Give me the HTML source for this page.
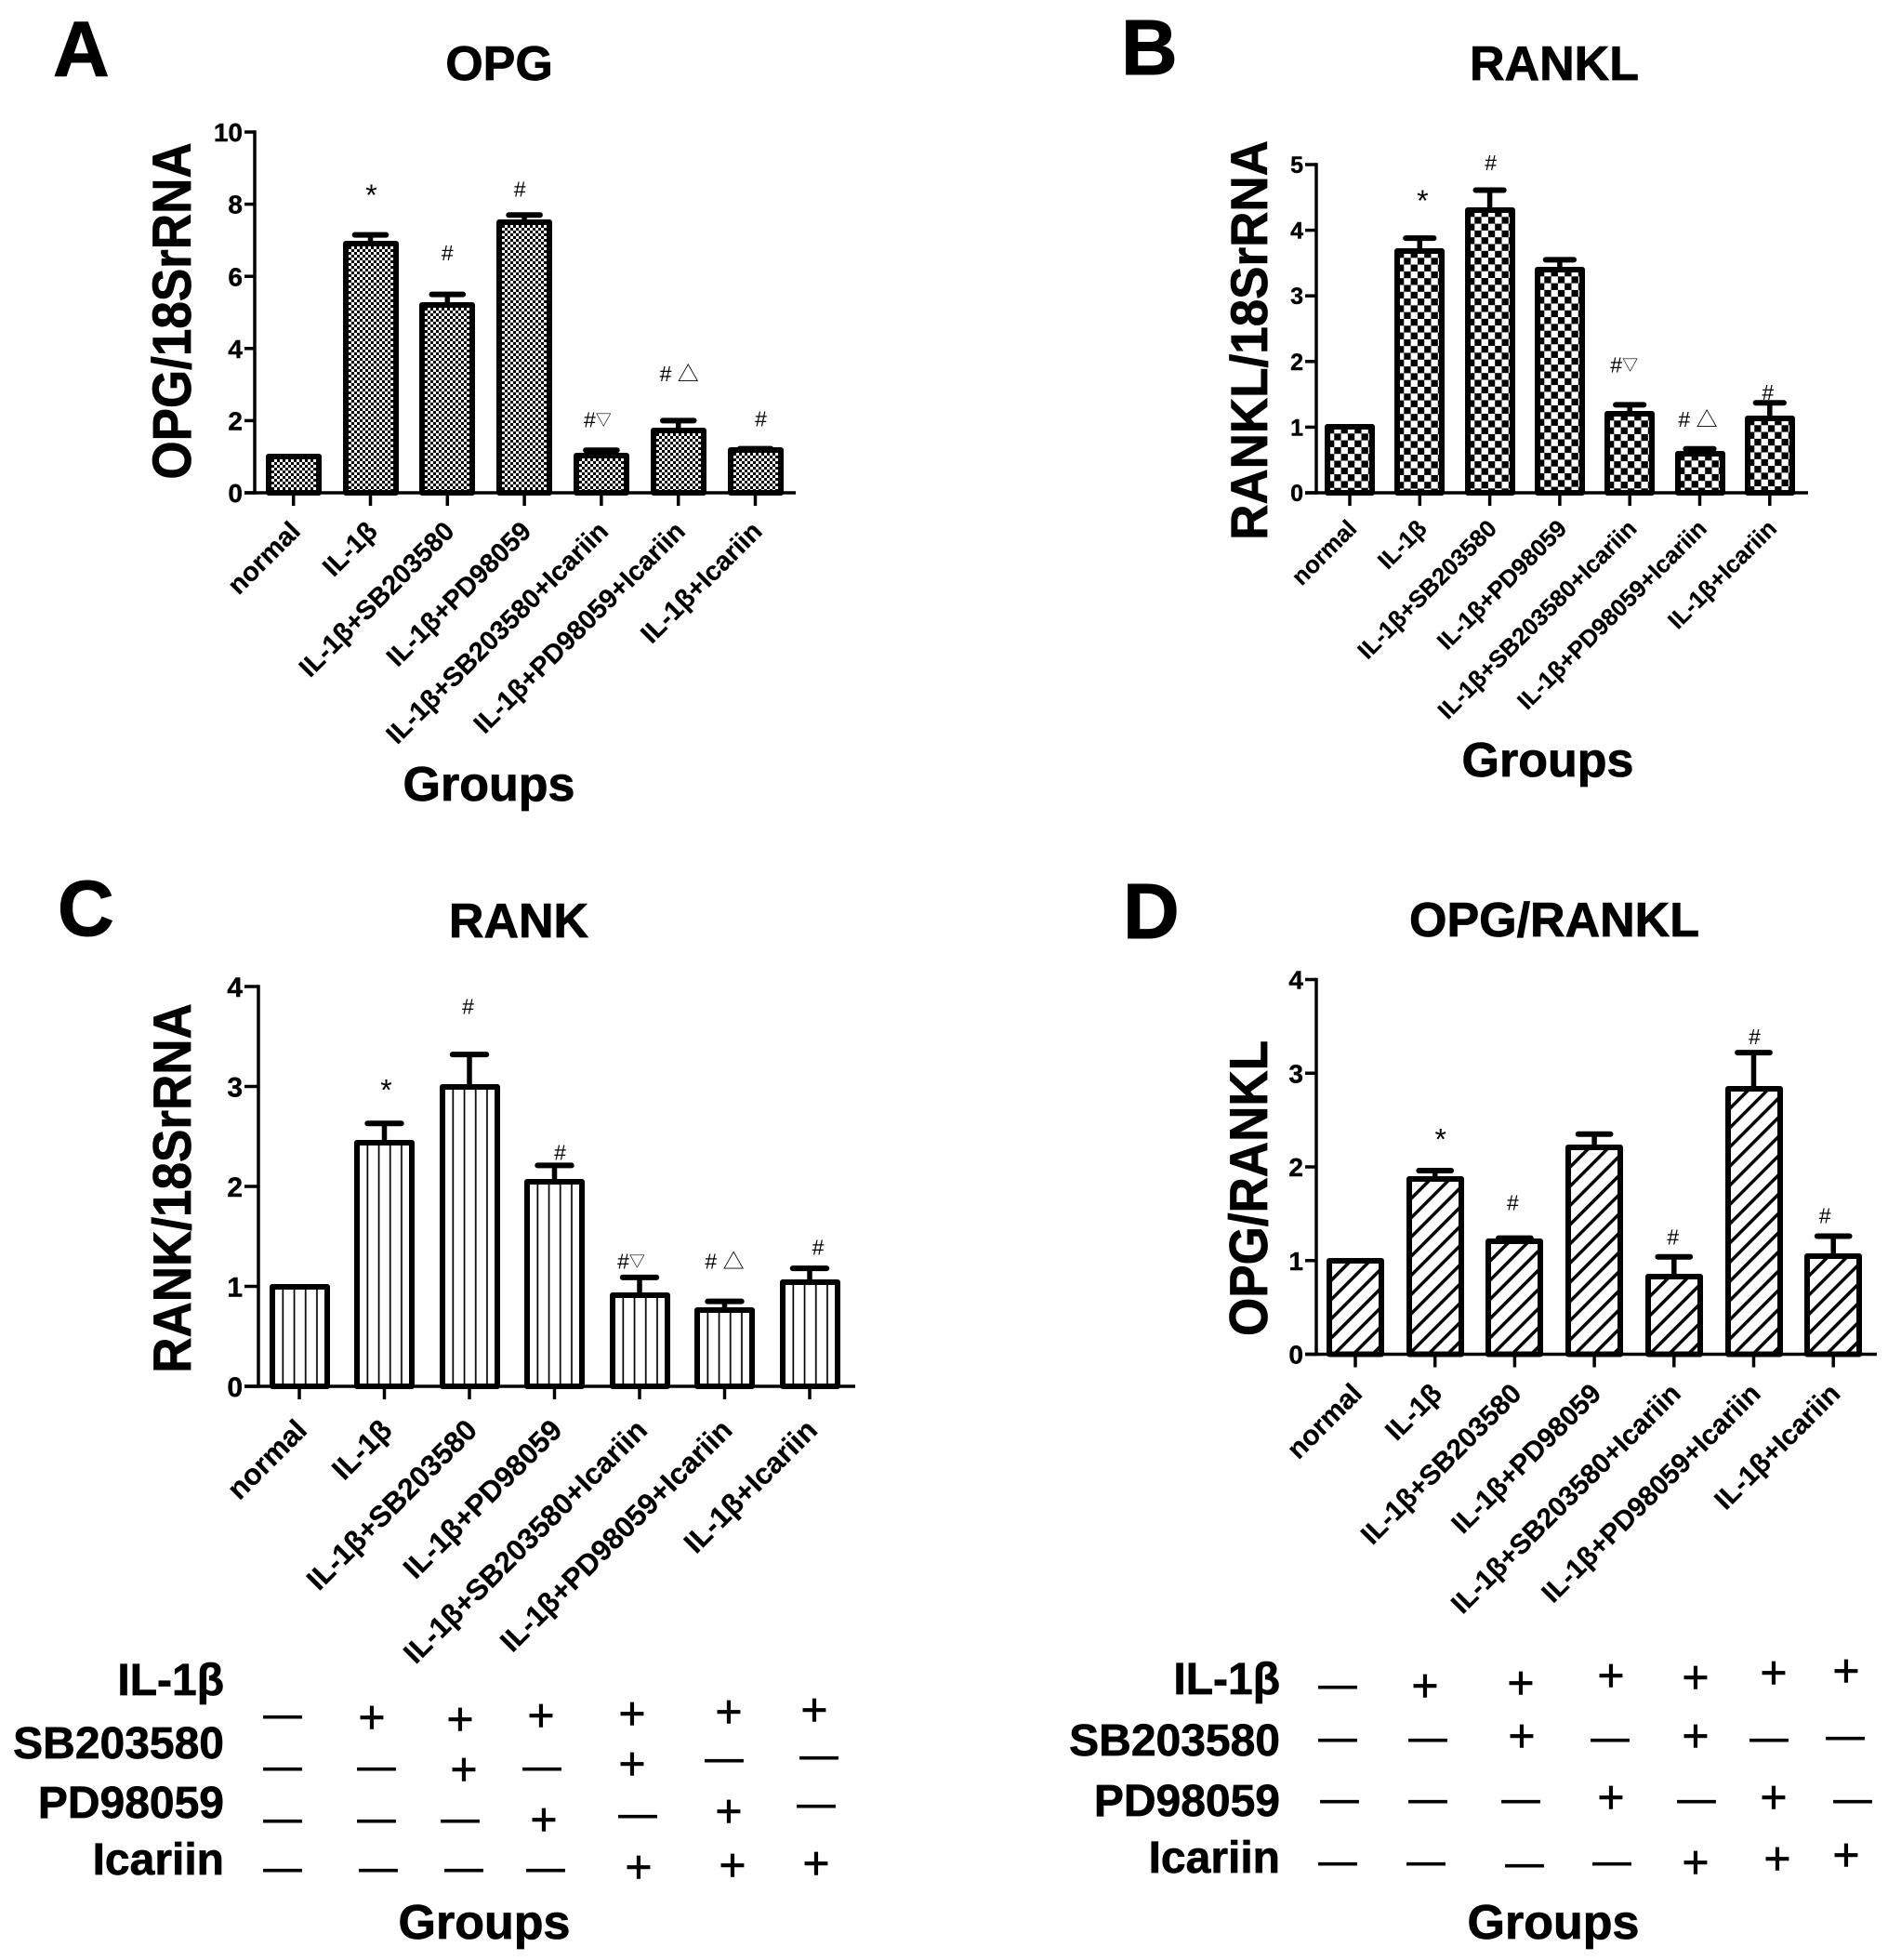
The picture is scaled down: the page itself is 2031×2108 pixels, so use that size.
<!DOCTYPE html>
<html lang="en">
<head>
<meta charset="utf-8">
<title>OPG, RANKL, RANK and OPG/RANKL expression by treatment group</title>
<style>
html,body{margin:0;padding:0;background:#fff}
svg{display:block}
text{font-family:"Liberation Sans","Noto Sans CJK SC",sans-serif;fill:#000}
.letter{font-weight:700;font-size:84px;stroke:#000;stroke-width:1}
.title{font-weight:700;font-size:52px;text-anchor:middle;stroke:#000;stroke-width:.8}
.ylab{font-weight:700;font-size:53px;text-anchor:middle;stroke:#000;stroke-width:.7}
.groups{font-weight:700;font-size:52px;text-anchor:middle;stroke:#000;stroke-width:.8}
.rowc{font-weight:700;font-size:48px;text-anchor:end;stroke:#000;stroke-width:.7}
.p{font-size:50px;text-anchor:middle;stroke:#000;stroke-width:.6}
.m{font-size:41px;text-anchor:middle;stroke:#000;stroke-width:.9}
.tl{font-weight:700;stroke:#000;stroke-width:.4}
.cl{font-weight:700;stroke:#000;stroke-width:.25}
</style>
</head>
<body>
<svg id="fig" xmlns="http://www.w3.org/2000/svg" width="2031" height="2108" viewBox="0 0 2031 2108">
<defs>
<pattern id="pat-fine" patternUnits="userSpaceOnUse" width="6" height="6"><rect width="6" height="6" fill="#fff"/><rect width="3" height="3" fill="#000"/><rect x="3" y="3" width="3" height="3" fill="#000"/></pattern>
<pattern id="pat-check" patternUnits="userSpaceOnUse" width="14.6" height="14.6"><rect width="14.6" height="14.6" fill="#fff"/><rect width="7.3" height="7.3" fill="#000"/><rect x="7.3" y="7.3" width="7.3" height="7.3" fill="#000"/></pattern>
<pattern id="pat-vert" patternUnits="userSpaceOnUse" width="12.2" height="12"><rect width="12.2" height="12" fill="#fff"/><rect x="10.5" width="2.3" height="12" fill="#000"/></pattern>
<pattern id="pat-diag" patternUnits="userSpaceOnUse" width="14.6" height="14.6" patternTransform="rotate(45)"><rect width="14.6" height="14.6" fill="#fff"/><rect width="3.5" height="14.6" fill="#000"/></pattern>
</defs>

<text class="letter" x="57" y="82">A</text>
<text class="letter" x="1206" y="80">B</text>
<text class="letter" x="62" y="1006">C</text>
<text class="letter" x="1208" y="1009">D</text>

<text class="title" x="537" y="86">OPG</text>
<text class="title" x="1672" y="86">RANKL</text>
<text class="title" x="558" y="1008">RANK</text>
<text class="title" x="1672" y="1007">OPG/RANKL</text>

<text class="ylab" transform="translate(205,334.5) rotate(-90) scale(1,1.1)">OPG/18SrRNA</text>
<text class="ylab" transform="translate(1363,366) rotate(-90) scale(1,1.05)">RANKL/18SrRNA</text>
<text class="ylab" transform="translate(205,1278) rotate(-90) scale(1,1.08)">RANK/18SrRNA</text>
<text class="ylab" transform="translate(1363,1278) rotate(-90) scale(1,1.08)">OPG/RANKL</text>

<text class="groups" x="526" y="861">Groups</text>
<text class="groups" x="1665" y="835">Groups</text>
<text class="groups" x="521" y="2085">Groups</text>
<text class="groups" x="1671" y="2085">Groups</text>

<g>
<text class="rowc" x="241" y="1823">IL-1β</text>
<text class="rowc" x="241" y="1891">SB203580</text>
<text class="rowc" x="241" y="1955">PD98059</text>
<text class="rowc" x="241" y="2016">Icariin</text>
<text class="m" x="304" y="1857">—</text>
<text class="p" x="400" y="1864">+</text>
<text class="p" x="495" y="1866">+</text>
<text class="p" x="582" y="1862">+</text>
<text class="p" x="680" y="1860">+</text>
<text class="p" x="784" y="1858">+</text>
<text class="p" x="876" y="1856">+</text>
<text class="m" x="304" y="1913">—</text>
<text class="m" x="405" y="1913">—</text>
<text class="p" x="499" y="1920">+</text>
<text class="m" x="583" y="1913">—</text>
<text class="p" x="680" y="1914">+</text>
<text class="m" x="779" y="1904">—</text>
<text class="m" x="881" y="1901">—</text>
<text class="m" x="304" y="1969">—</text>
<text class="m" x="405" y="1969">—</text>
<text class="m" x="495" y="1969">—</text>
<text class="p" x="585" y="1974">+</text>
<text class="m" x="686" y="1964">—</text>
<text class="p" x="784" y="1965">+</text>
<text class="m" x="878" y="1953">—</text>
<text class="m" x="304" y="2022">—</text>
<text class="m" x="407" y="2022">—</text>
<text class="m" x="499" y="2022">—</text>
<text class="m" x="587" y="2022">—</text>
<text class="p" x="687" y="2025">+</text>
<text class="p" x="788" y="2023">+</text>
<text class="p" x="878" y="2021">+</text>
</g>

<g>
<text class="rowc" x="1377" y="1822">IL-1β</text>
<text class="rowc" x="1377" y="1888">SB203580</text>
<text class="rowc" x="1377" y="1953">PD98059</text>
<text class="rowc" x="1377" y="2014">Icariin</text>
<text class="m" x="1439" y="1825">—</text>
<text class="p" x="1533" y="1830">+</text>
<text class="p" x="1636" y="1827">+</text>
<text class="p" x="1733" y="1819">+</text>
<text class="p" x="1824" y="1821">+</text>
<text class="p" x="1908" y="1816">+</text>
<text class="p" x="1986" y="1814">+</text>
<text class="m" x="1439" y="1882">—</text>
<text class="m" x="1536" y="1882">—</text>
<text class="p" x="1637" y="1884">+</text>
<text class="m" x="1732" y="1882">—</text>
<text class="p" x="1824" y="1884">+</text>
<text class="m" x="1903" y="1882">—</text>
<text class="m" x="1985" y="1880">—</text>
<text class="m" x="1441" y="1948">—</text>
<text class="m" x="1536" y="1948">—</text>
<text class="m" x="1636" y="1948">—</text>
<text class="p" x="1733" y="1950">+</text>
<text class="m" x="1825" y="1948">—</text>
<text class="p" x="1908" y="1950">+</text>
<text class="m" x="1993" y="1948">—</text>
<text class="m" x="1439" y="2015">—</text>
<text class="m" x="1534" y="2015">—</text>
<text class="m" x="1640" y="2017">—</text>
<text class="m" x="1734" y="2015">—</text>
<text class="p" x="1824" y="2020">+</text>
<text class="p" x="1912" y="2016">+</text>
<text class="p" x="1986" y="2012">+</text>
</g>
</svg>

<script>
const categories = ['normal', 'IL-1β', 'IL-1β+SB203580', 'IL-1β+PD98059', 'IL-1β+SB203580+Icariin', 'IL-1β+PD98059+Icariin', 'IL-1β+Icariin'];

const opgValues = [1, 6.9, 5.2, 7.5, 1.02, 1.72, 1.18];
const opgErrorTops = [1, 7.15, 5.5, 7.7, 1.18, 2.0, 1.22];
const opgTicks = [0, 2, 4, 6, 8, 10];
const opgMarks = ['', '*', '#', '#', '#▽', '# △', '#'];
const opgMarkLevels = [0, 8.37, 6.65, 8.42, 2.03, 3.3, 2.05];

const ranklValues = [1, 3.68, 4.3, 3.4, 1.21, 0.6, 1.13];
const ranklErrorTops = [1, 3.88, 4.61, 3.55, 1.34, 0.67, 1.37];
const ranklTicks = [0, 1, 2, 3, 4, 5];
const ranklMarks = ['', '*', '#', '', '#▽', '# △', '#'];
const ranklMarkLevels = [0, 4.52, 5.03, 0, 1.95, 1.12, 1.53];

const rankValues = [1, 2.44, 3.0, 2.05, 0.91, 0.76, 1.04];
const rankErrorTops = [1, 2.63, 3.32, 2.21, 1.09, 0.85, 1.18];
const rankTicks = [0, 1, 2, 3, 4];
const rankMarks = ['', '*', '#', '#', '#▽', '# △', '#'];
const rankMarkLevels = [0, 3.01, 3.8, 2.34, 1.25, 1.25, 1.39];

const ratioValues = [1, 1.87, 1.21, 2.21, 0.83, 2.83, 1.05];
const ratioErrorTops = [1, 1.96, 1.24, 2.35, 1.04, 3.22, 1.26];
const ratioTicks = [0, 1, 2, 3, 4];
const ratioMarks = ['', '*', '#', '', '#', '#', '#'];
const ratioMarkLevels = [0, 2.34, 1.62, 0, 1.25, 3.39, 1.48];

const NS = 'http://www.w3.org/2000/svg';
const fig = document.getElementById('fig');

function make(tag, parent, attrs) {
  const el = document.createElementNS(NS, tag);
  for (const k in attrs) el.setAttribute(k, attrs[k]);
  parent.appendChild(el);
  return el;
}

function drawPanel(c) {
  const g = make('g', fig, {});
  
  

  const maxTick = c.ticks[c.ticks.length - 1];
  const yScale = v => c.y0 - v * (c.y0 - c.yTop) / maxTick;
  const xScale = i => c.x0 + i * c.step;
  const sw = 6;

  c.values.forEach((v, i) => {
    const cx = xScale(i);
    const top = yScale(v);
    const errTop = yScale(c.errorTops[i]);
    const capHalf = c.barW * 0.28;

    if (c.errorTops[i] > v) {
      const stem = make('line', g, {x1: cx, x2: cx, y1: top, y2: errTop, stroke: '#000', 'stroke-width': 5.5});
      
      
      const cap = make('line', g, {x1: cx - capHalf, x2: cx + capHalf, y1: errTop, y2: errTop, stroke: '#000', 'stroke-width': 6, 'stroke-linecap': 'round'});
      
      
    }

    const inner = c.barW - sw;
    const bar = make('rect', g, {
      transform: 'translate(' + Math.round(cx - inner / 2) + ',' + Math.round(top) + ')',
      x: 0, y: 0, width: inner, height: c.y0 - Math.round(top),
      fill: 'url(#' + c.pattern + ')', stroke: '#000', 'stroke-width': sw, 'stroke-linejoin': 'round'
    });
    
    

    const tick = make('line', g, {x1: cx, x2: cx, y1: c.y0, y2: c.y0 + 14, stroke: '#000', 'stroke-width': 3.5});
    
    

    const lx = cx + c.labelDx;
    const ly = c.y0 + c.labelDy;
    const lab = make('text', g, {class: 'cl', x: lx, y: ly, 'text-anchor': 'end', 'font-size': c.catFont, transform: 'rotate(-45 ' + lx + ' ' + ly + ')'});
    lab.textContent = categories[i];
    
    

    if (c.marks[i]) {
      const mx = cx + c.markNudge[i];
      const isStar = c.marks[i] === '*';
      const fs = isStar ? 32 : 23;
      const my = yScale(c.markLevels[i]) + (isStar ? fs * 0.5 : fs * 0.35);
      const mk = make('text', g, {x: mx, y: my, 'text-anchor': 'middle', 'font-size': fs});
      if (c.marks[i].indexOf('▽') >= 0) {
        mk.appendChild(document.createTextNode('#'));
        const tri = make('tspan', mk, {'font-size': 17, dy: -2});
        tri.textContent = '▽';
      } else {
        mk.textContent = c.marks[i];
      }
      
      
    }
  });

  const yAxis = make('line', g, {x1: c.x0Axis, x2: c.x0Axis, y1: c.yTop - 1.75, y2: c.y0 + 1.75, stroke: '#000', 'stroke-width': 3.5});
  
  
  const xAxis = make('line', g, {x1: c.axisLeft, x2: c.axisRight, y1: c.y0, y2: c.y0, stroke: '#000', 'stroke-width': 3.5});
  
  

  c.ticks.forEach(t => {
    const y = yScale(t);
    const tk = make('line', g, {x1: c.axisLeft, x2: c.x0Axis, y1: y, y2: y, stroke: '#000', 'stroke-width': 3.5});
    
    
    const tl = make('text', g, {class: 'tl', x: c.axisLeft - 2, y: y + c.tickFont * 0.36, 'text-anchor': 'end', 'font-size': c.tickFont});
    tl.textContent = t;
    
    
  });
}

drawPanel({id: 'opg', values: opgValues, errorTops: opgErrorTops, ticks: opgTicks, marks: opgMarks, markLevels: opgMarkLevels,
  markNudge: [0, 1, 0, -5, -4, 1, 6], pattern: 'pat-fine', x0: 315.7, step: 82.8, barW: 60, y0: 530, yTop: 142, x0Axis: 274, axisLeft: 263, axisRight: 856, tickFont: 28, catFont: 28.8, labelDx: 9, labelDy: 43});
drawPanel({id: 'rankl', values: ranklValues, errorTops: ranklErrorTops, ticks: ranklTicks, marks: ranklMarks, markLevels: ranklMarkLevels,
  markNudge: [0, 3, 1, 0, -6, -2, -2], pattern: 'pat-check', x0: 1452, step: 75.3, barW: 54, y0: 530, yTop: 177, x0Axis: 1416, axisLeft: 1404, axisRight: 1945, tickFont: 25, catFont: 25.8, labelDx: 9, labelDy: 40});
drawPanel({id: 'rank', values: rankValues, errorTops: rankErrorTops, ticks: rankTicks, marks: rankMarks, markLevels: rankMarkLevels,
  markNudge: [0, 2, -1.5, 6, -9, 0, 9], pattern: 'pat-vert', x0: 322, step: 91.5, barW: 65, y0: 1491, yTop: 1061, x0Axis: 278, axisLeft: 263, axisRight: 920, tickFont: 30, catFont: 31.6, labelDx: 10, labelDy: 49});
drawPanel({id: 'opg-rankl', values: ratioValues, errorTops: ratioErrorTops, ticks: ratioTicks, marks: ratioMarks, markLevels: ratioMarkLevels,
  markNudge: [0, 6, -2, 0, -1, 1, -9], pattern: 'pat-diag', x0: 1458, step: 85.7, barW: 62, y0: 1456.5, yTop: 1053.5, x0Axis: 1416, axisLeft: 1404, axisRight: 2019, tickFont: 28, catFont: 29.8, labelDx: 9, labelDy: 44});
</script>
</body>
</html>
